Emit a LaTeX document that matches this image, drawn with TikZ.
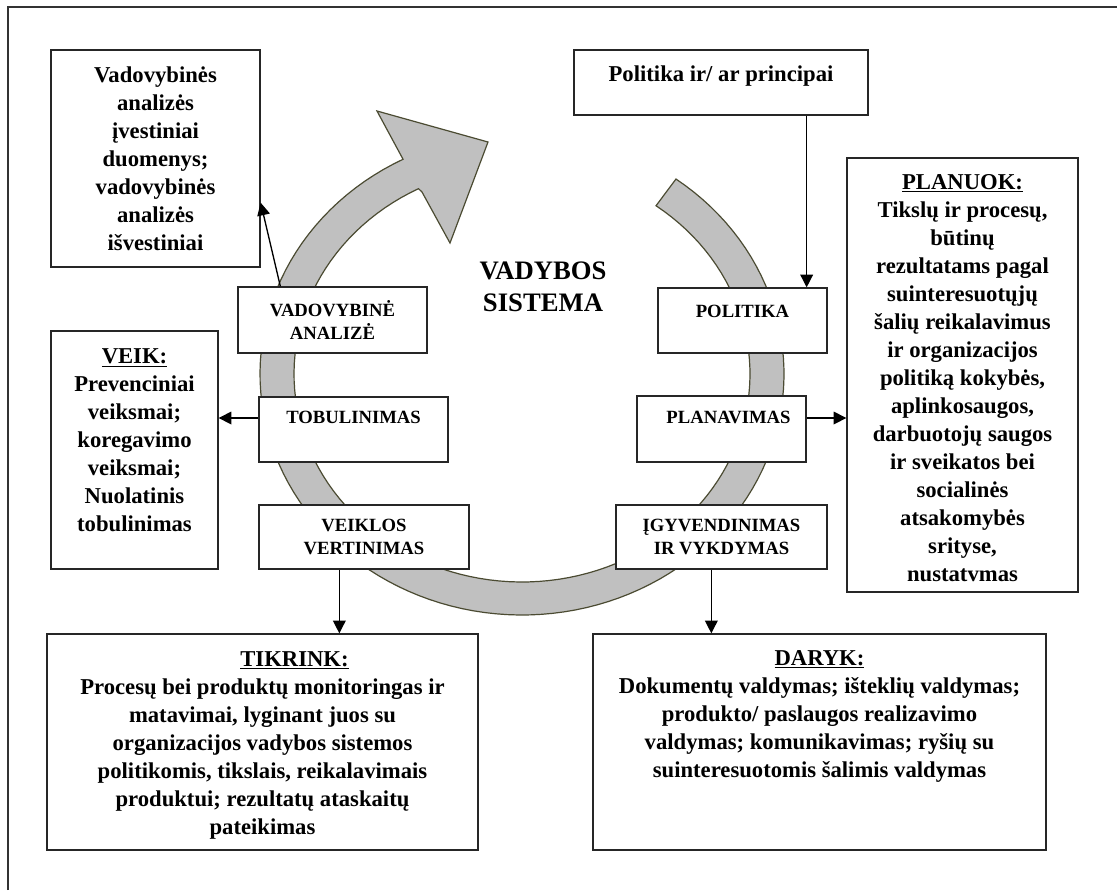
\documentclass[tikz,border=0pt]{standalone}
\usepackage{fontspec}
\setmainfont{Liberation Serif}
\usetikzlibrary{calc,fit,arrows.meta}
\definecolor{ringgray}{RGB}{192,192,192}
\definecolor{ringedge}{RGB}{75,75,50}
\begin{document}
\begin{tikzpicture}[x=0.75pt,y=-0.75pt,
  box/.style={draw=black!85, line width=1pt, fill=white, inner sep=0pt},
  arr/.style={draw=black, line width=1pt, -{Triangle[length=9.5pt,width=9.5pt]}},
  body/.style={font=\bfseries\fontsize{17}{21}\selectfont, align=center, inner sep=0pt},
  small/.style={font=\bfseries\fontsize{14}{17}\selectfont, align=center, inner sep=0pt},
  big/.style={font=\bfseries\fontsize{20}{24}\selectfont, align=center, inner sep=0pt},
  ring/.style={fill=ringgray, draw=ringedge, line width=0.9pt},
]
\useasboundingbox (0,0) rectangle (1117,890);
% outer frame (clipped at right and bottom)
\draw[line width=1.5pt, black!80] (8,890) -- (8,7) -- (1117,7);
% circular arrow
\draw[ring] plot[domain=-54:243,samples=120,variable=\t] ({522+262*cos(\t)},{374+241*sin(\t)})
  -- (377,111) -- (488,142) -- (450,243) -- (422,192)
  -- plot[domain=243:-54,samples=120,variable=\t] ({522+228*cos(\t)},{374+208*sin(\t)}) -- cycle;
% boxes
\node[box, fit={(51,50) (260,267)}] (inb) {};
\node[box, fit={(574,50) (868,115)}] (pp) {};
\node[box, fit={(847,158) (1078,592)}] (planuok) {};
\node[box, fit={(51,331) (218,569)}] (veik) {};
\node[box, fit={(238,287) (427,353)}] (va) {};
\node[box, fit={(259,397) (448,462)}] (tob) {};
\node[box, fit={(259,505) (469,569)}] (vv) {};
\node[box, fit={(658,288) (827,353)}] (pol) {};
\node[box, fit={(637,396) (806,462)}] (plan) {};
\node[box, fit={(616,505) (827,569)}] (igy) {};
\node[box, fit={(47,634) (478,850)}] (tik) {};
\node[box, fit={(593,634) (1046,850)}] (dar) {};
% texts
\node[body] (inbt) at (inb.center) {Vadovybinės\\analizės\\įvestiniai\\duomenys;\\vadovybinės\\analizės\\išvestiniai};
\node[body] (ppt) at ($(pp.center)+(0,-6.5)$) {Politika ir/ ar principai};
\node[body] (plt) at ($(planuok.center)+(0,3)$) {\underline{PLANUOK:}\\Tikslų ir procesų,\\būtinų\\rezultatams pagal\\suinteresuotųjų\\šalių reikalavimus\\ir organizacijos\\politiką kokybės,\\aplinkosaugos,\\darbuotojų saugos\\ir sveikatos bei\\socialinės\\atsakomybės\\srityse,\\nustatvmas};
\node[body] (veikt) at ($(veik.center)+(0,-9.5)$) {\underline{VEIK:}\\Prevenciniai\\veiksmai;\\koregavimo\\veiksmai;\\Nuolatinis\\tobulinimas};
\node[body] (tikt) at ($(tik.center)+(0,3)$) {\hspace*{48pt}\underline{TIKRINK:}\\Procesų bei produktų monitoringas ir\\matavimai, lyginant juos su\\organizacijos vadybos sistemos\\politikomis, tikslais, reikalavimais\\produktui; rezultatų ataskaitų\\pateikimas};
\node[body] (dart) at ($(dar.center)+(0,-26)$) {\underline{DARYK:}\\Dokumentų valdymas; išteklių valdymas;\\produkto/ paslaugos realizavimo\\valdymas; komunikavimas; ryšių su\\suinteresuotomis šalimis valdymas};
\node[small] (vat) at (va.center) {VADOVYBINĖ\\ANALIZĖ};
\node[small] (tobt) at ($(tob.center)+(0,-12.5)$) {TOBULINIMAS};
\node[small] (vvt) at (vv.center) {VEIKLOS\\VERTINIMAS};
\node[small] (polt) at ($(pol.center)+(0,-9.5)$) {POLITIKA};
\node[small] (plant) at ($(plan.center)+(7,-12)$) {PLANAVIMAS};
\node[small] (igyt) at (igy.center) {ĮGYVENDINIMAS\\IR VYKDYMAS};
\node[big] (vs) at (543,287) {VADYBOS\\SISTEMA};
% connectors
\coordinate (a1) at ($(va.north west)+(43,0)$);
\coordinate (a2) at ($(inb.south east)+(0,-65)$);
\draw[arr] (a1) -- (a2);
\coordinate (b1) at ($(tob.west)+(0,-11.5)$);
\draw[arr] (b1) -- (b1 -| veik.east);
\coordinate (c1) at ($(plan.east)+(0,-11)$);
\draw[arr] (c1) -- (c1 -| planuok.west);
\coordinate (d1) at ($(pol.north east)+(-21,0)$);
\draw[arr] (d1 |- pp.south) -- (d1);
\coordinate (e1) at ($(vv.south west)+(81,0)$);
\draw[arr] (e1) -- (e1 |- tik.north);
\coordinate (f1) at ($(igy.south west)+(96,0)$);
\draw[arr] (f1) -- (f1 |- dar.north);
\end{tikzpicture}
\end{document}
